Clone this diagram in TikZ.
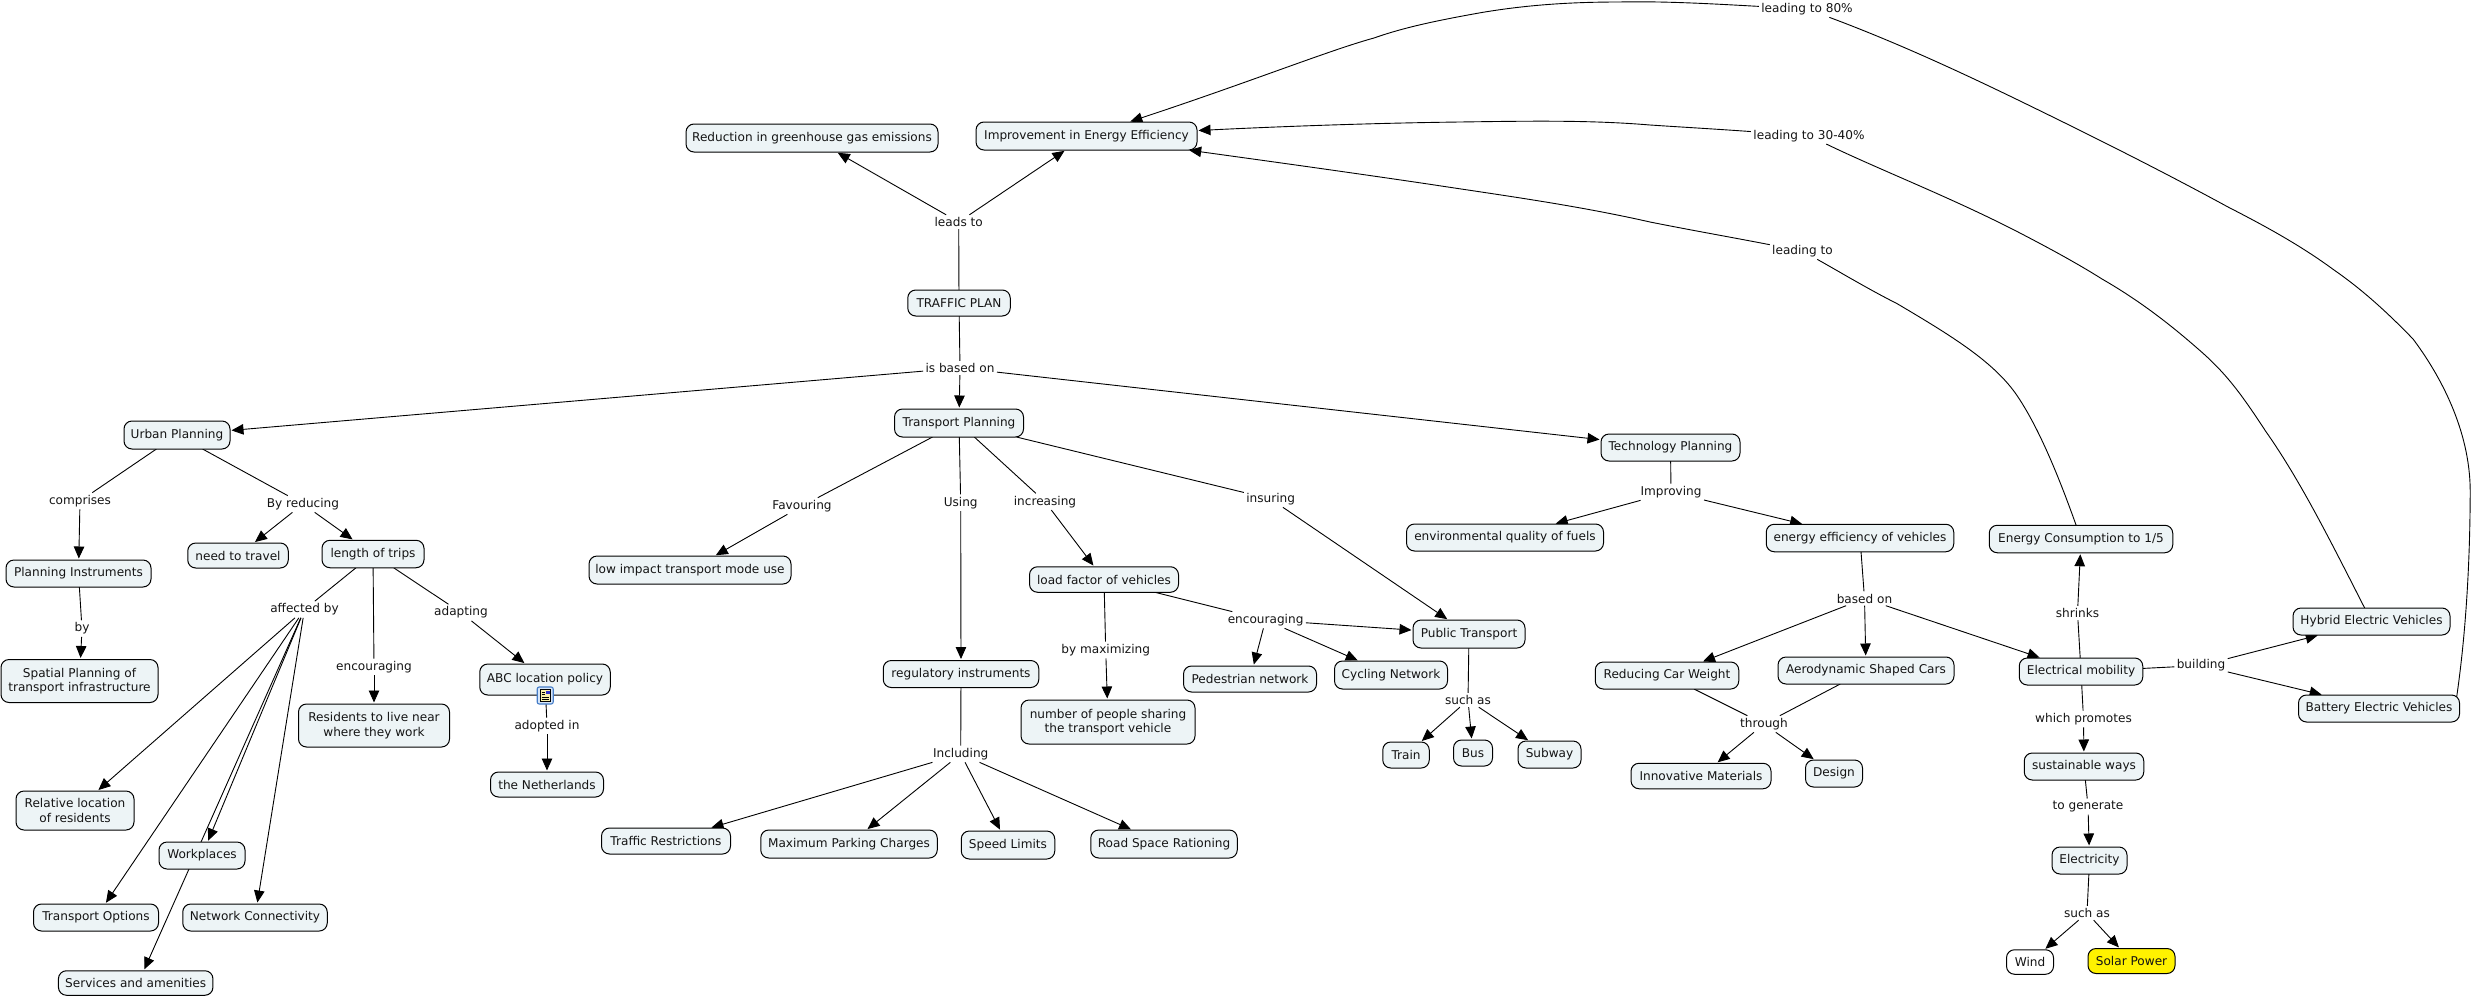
\documentclass[tikz,border=0pt]{standalone}
\usepackage{fontspec}
\setmainfont{DejaVu Sans}
\usetikzlibrary{arrows.meta,backgrounds,calc}
\definecolor{boxfill}{RGB}{237,244,246}
\definecolor{inkc}{RGB}{20,20,20}
\tikzset{
  x=1pt,y=-1pt,
  cbox/.style={draw=black,line width=1pt,rounded corners=8pt,fill=boxfill,inner sep=0pt,outer sep=0pt,
     font=\fontsize{12.1}{14.5}\selectfont,align=center,text=inkc},
  wbox/.style={cbox,fill=white},
  ybox/.style={cbox,fill=yellow},
  lnk/.style={inner sep=2.5pt,outer sep=0pt,font=\fontsize{12.1}{14.5}\selectfont,text=inkc},
  ln/.style={draw=black,line width=0.9pt},
  arr/.style={ln,-{Triangle[length=12pt,width=10.5pt]},shorten >=1.5pt},
}
\newcommand\cb[7][cbox]{\node[#1,minimum width=#4pt,minimum height=#5pt] (#2) at (#3) {#6#7};}
\begin{document}
\begin{tikzpicture}
\useasboundingbox (0,0) rectangle (2471,996);
% concepts
\cb{cRedu}{812,138}{252}{28}{}{Reduction in greenhouse gas emissions}
\cb{cImp}{1086.5,136}{221}{28}{}{Improvement in Energy Efficiency}
\cb{cPlan}{959,303}{102.5}{26}{}{TRAFFIC PLAN}
\cb{cUrban}{177,435}{106}{28}{}{Urban Planning}
\cb{cInst}{78.5,573.5}{145}{27}{}{Planning Instruments}
\cb{cNeed}{238,555.5}{100.5}{25}{}{need to travel}
\cb{cTrips}{373,554}{102}{27.5}{}{length of trips}
\cb{cSpat}{79.5,681}{157}{43}{}{Spatial Planning of\\transport infrastructure}
\cb{cRel}{75,810.5}{118}{39}{}{Relative location\\of residents}
\cb{cWork}{202,855.5}{86}{27}{}{Workplaces}
\cb{cTopt}{96,917.5}{125}{27}{}{Transport Options}
\cb{cNetc}{255,917.5}{144.5}{27}{}{Network Connectivity}
\cb{cSvc}{135.7,983}{154.5}{24.5}{}{Services and amenities}
\cb{cRes}{374,725.5}{151}{43}{}{Residents to live near\\where they work}
\cb{cAbc}{545,679.5}{130.5}{31}{}{\raisebox{3pt}{ABC location policy}}
\cb{cNeth}{547,784.5}{113}{25}{}{the Netherlands}
\cb{cTp}{959,423}{129}{28}{}{Transport Planning}
\cb{cLow}{690,570}{202}{28}{}{low impact transport mode use}
\cb{cLoad}{1104,579.5}{149}{25.5}{}{load factor of vehicles}
\cb{cReg}{961,674}{155.5}{27}{}{regulatory instruments}
\cb{cNum}{1108,722}{174}{44}{}{number of people sharing\\the transport vehicle}
\cb{cPed}{1250,679}{133}{26}{}{Pedestrian network}
\cb{cCyc}{1391,675}{113}{28}{}{Cycling Network}
\cb{cPub}{1469,634}{112}{28}{}{Public Transport}
\cb{cTrain}{1406,755}{46.5}{26}{}{Train}
\cb{cBus}{1473,753}{39}{26}{}{Bus}
\cb{cSub}{1549.5,754.5}{63}{27}{}{Subway}
\cb{cTraf}{666,841}{129}{26}{}{Traffic Restrictions}
\cb{cPark}{849,844}{176.5}{28}{}{Maximum Parking Charges}
\cb{cSpeed}{1008,845}{93.5}{28}{}{Speed Limits}
\cb{cRoad}{1164,844}{146.5}{28}{}{Road Space Rationing}
\cb{cTech}{1670.5,447.5}{139}{27}{}{Technology Planning}
\cb{cEnv}{1505,537.5}{197}{27}{}{environmental quality of fuels}
\cb{cEff}{1860,538}{187.5}{27.5}{}{energy efficiency of vehicles}
\cb{cCons}{2081,539}{183.5}{27.5}{}{Energy Consumption to 1/5}
\cb{cCar}{1667,675.5}{143.5}{27}{}{Reducing Car Weight}
\cb{cAero}{1866,670.5}{176}{27}{}{Aerodynamic Shaped Cars}
\cb{cElec}{2081,671.5}{123.5}{27}{}{Electrical mobility}
\cb{cHyb}{2371.5,621.5}{157}{27}{}{Hybrid Electric Vehicles}
\cb{cBat}{2379,708.5}{161}{27}{}{Battery Electric Vehicles}
\cb{cInn}{1701,776}{140}{25.5}{}{Innovative Materials}
\cb{cDes}{1834,773.5}{57}{27}{}{Design}
\cb{cSus}{2084,766.5}{119.5}{27}{}{sustainable ways}
\cb{cElc}{2089.5,860.5}{75}{27}{}{Electricity}
\cb[wbox]{cWind}{2030,962}{47}{24.5}{}{Wind}
\cb[ybox]{cSolar}{2131.5,961}{87}{25}{}{Solar Power}
% linking phrases
\node[lnk] (lLeads) at (958.7,222) {leads to};
\node[lnk] (lBased) at (960,368) {is based on};
\node[lnk] (lComp) at (80,501) {comprises};
\node[lnk] (lReduc) at (303,504) {By reducing};
\node[lnk] (lBy) at (82,628.6) {by};
\node[lnk] (lAff) at (304.5,609.5) {affected by};
\node[lnk] (lEnc) at (374,667) {encouraging};
\node[lnk] (lAdap) at (461,612.6) {adapting};
\node[lnk] (lAdop) at (547,726) {adopted in};
\node[lnk] (lFav) at (802,506) {Favouring};
\node[lnk] (lUsing) at (960.7,502.7) {Using};
\node[lnk] (lIncr) at (1045,501.7) {increasing};
\node[lnk] (lIns) at (1270.7,499) {insuring};
\node[lnk] (lEnc2) at (1265.6,620) {encouraging};
\node[lnk] (lMax) at (1105.7,650) {by maximizing};
\node[lnk] (lSuch) at (1468,700) {such as};
\node[lnk] (lIncl) at (960.7,754) {Including};
\node[lnk] (lImpr) at (1671,492) {Improving};
\node[lnk] (lBon) at (1864.5,598.5) {based on};
\node[lnk] (lThr) at (1764,724) {through};
\node[lnk] (lShr) at (2077.5,613) {shrinks};
\node[lnk] (lBld) at (2201,665.5) {building};
\node[lnk] (lPro) at (2083.5,719) {which promotes};
\node[lnk] (lGen) at (2088,806.5) {to generate};
\node[lnk] (lSuch2) at (2087,913) {such as};
\node[lnk] (lL) at (1802.5,251) {leading to};
\node[lnk] (lL30) at (1809,135.7) {leading to 30-40\%};
\node[lnk] (lL80) at (1807,9) {leading to 80\%};
% document icon on ABC location policy
\node[draw={rgb,255:red,70;green,125;blue,200},line width=1.1pt,fill={rgb,255:red,214;green,230;blue,248},rounded corners=2pt,minimum width=16pt,minimum height=17pt,inner sep=0pt] (iDoc) at (545.2,695.5) {};
\node[draw=black,line width=0.8pt,fill={rgb,255:red,250;green,240;blue,170},minimum width=10pt,minimum height=12pt,inner sep=0pt] (iPage) at (iDoc) {};
\fill[blue!60!gray] (546,690.5) rectangle (549.5,694);
\draw[black,line width=0.7pt] (541.5,692) -- (545,692) (541.5,694.5) -- (545,694.5) (541.5,697) -- (549,697) (541.5,699.5) -- (549,699.5);
% connectors
\begin{scope}[on background layer]
\draw[ln] (cPlan) -- (lLeads);
\draw[arr] (lLeads) -- (cRedu);
\draw[arr] (lLeads) -- (cImp);
\draw[ln] (cPlan) -- (lBased);
\draw[arr] (lBased) -- (cUrban);
\draw[arr] (lBased) -- (cTp);
\draw[arr] (lBased) -- (cTech);
\draw[ln] (cUrban) -- (lComp);
\draw[arr] (lComp) -- (cInst);
\draw[ln] (cInst) -- (lBy);
\draw[arr] (lBy) -- (cSpat);
\draw[ln] (cUrban) -- (lReduc);
\draw[arr] (lReduc) -- (cNeed);
\draw[arr] (lReduc) -- (cTrips);
\draw[ln] (cTrips) -- (lAff);
\draw[arr] (lAff) -- (cRel);
\draw[arr] (lAff) -- (cTopt);
\draw[arr] (lAff) -- (cWork);
\draw[arr] (lAff) -- ([xshift=8pt]cSvc.north);
\draw[arr] (lAff) -- (cNetc);
\draw[ln] (cTrips) -- (lEnc);
\draw[arr] (lEnc) -- (cRes);
\draw[ln] (cTrips) -- (lAdap);
\draw[arr] (lAdap) -- (cAbc);
\draw[ln] (cAbc) -- (lAdop);
\draw[arr] (lAdop) -- (cNeth);
\draw[ln] (cTp) -- (lFav);
\draw[arr] (lFav) -- (cLow);
\draw[ln] (cTp) -- (lUsing);
\draw[arr] (lUsing) -- (cReg);
\draw[ln] (cReg) -- (lIncl);
\draw[arr] (lIncl) -- (cTraf);
\draw[arr] (lIncl) -- (cPark);
\draw[arr] (lIncl) -- (cSpeed);
\draw[arr] (lIncl) -- (cRoad);
\draw[ln] (cTp) -- (lIncr);
\draw[arr] (lIncr) -- (cLoad);
\draw[ln] (cTp) -- (lIns);
\draw[arr] (lIns) -- (cPub);
\draw[ln] (cLoad) -- (lMax);
\draw[arr] (lMax) -- (cNum);
\draw[ln] (cLoad) -- (lEnc2);
\draw[arr] (lEnc2) -- (cPed);
\draw[arr] (lEnc2) -- (cCyc);
\draw[arr] (lEnc2) -- (cPub);
\draw[ln] (cPub) -- (lSuch);
\draw[arr] (lSuch) -- (cTrain);
\draw[arr] (lSuch) -- (cBus);
\draw[arr] (lSuch) -- (cSub);
\draw[ln] (cTech) -- (lImpr);
\draw[arr] (lImpr) -- (cEnv);
\draw[arr] (lImpr) -- (cEff);
\draw[ln] (cEff) -- (lBon);
\draw[arr] (lBon) -- (cCar);
\draw[arr] (lBon) -- (cAero);
\draw[arr] (lBon) -- (cElec);
\draw[ln] (cCar) -- (lThr);
\draw[ln] (cAero) -- (lThr);
\draw[arr] (lThr) -- (cInn);
\draw[arr] (lThr) -- (cDes);
\draw[ln] (cElec) -- (lShr);
\draw[arr] (lShr) -- (cCons);
\draw[ln] (cElec) -- (lBld);
\draw[arr] (lBld) -- (cHyb);
\draw[arr] (lBld) -- (cBat);
\draw[ln] (cElec) -- (lPro);
\draw[arr] (lPro) -- (cSus);
\draw[ln] (cSus) -- (lGen);
\draw[arr] (lGen) -- (cElc);
\draw[ln] (cElc) -- (lSuch2);
\draw[arr] (lSuch2) -- (cWind);
\draw[arr] (lSuch2) -- (cSolar);
% long curved connectors
\draw[ln] (cCons) .. controls (2060,480) and (2040,430) .. (2018,397)
  .. controls (1995,362) and (1950,335) .. (1897,303.6)
  .. controls (1870,290) and (1845,275) .. (lL);
\draw[arr] (lL) .. controls (1730,237) and (1690,230) .. (1650,222)
  .. controls (1575,205) and (1500,195) .. (1428,184)
  .. controls (1340,171) and (1260,160) .. (cImp);
\draw[ln] (cHyb) .. controls (2330,540) and (2300,480) .. (2265.5,431)
  .. controls (2240,392) and (2225,372) .. (2197,348)
  .. controls (2165,320) and (2135,298) .. (2102,279)
  .. controls (2075,262) and (2045,246) .. (2018,232)
  .. controls (1950,197) and (1880,170) .. (lL30);
\draw[arr] (lL30) .. controls (1715,129) and (1680,127) .. (1650,125)
  .. controls (1590,120) and (1530,121) .. (1460,122)
  .. controls (1380,123) and (1290,126) .. (cImp);
\draw[ln] ([shift={(-3,3)}]cBat.north east) .. controls (2465,640) and (2470,570) .. (2470.2,491)
  .. controls (2470,430) and (2440,375) .. (2413,339)
  .. controls (2385,310) and (2360,288) .. (2334,270)
  .. controls (2300,245) and (2265,226) .. (2228,207)
  .. controls (2160,170) and (2090,135) .. (2018,100)
  .. controls (1950,67) and (1890,40) .. (lL80);
\draw[arr] (lL80) .. controls (1715,4) and (1665,1) .. (1619,2)
  .. controls (1570,2) and (1525,5) .. (1479,13)
  .. controls (1440,20) and (1405,27) .. (1374,38)
  .. controls (1330,50) and (1250,82) .. (cImp);
\end{scope}
\end{tikzpicture}
\end{document}
